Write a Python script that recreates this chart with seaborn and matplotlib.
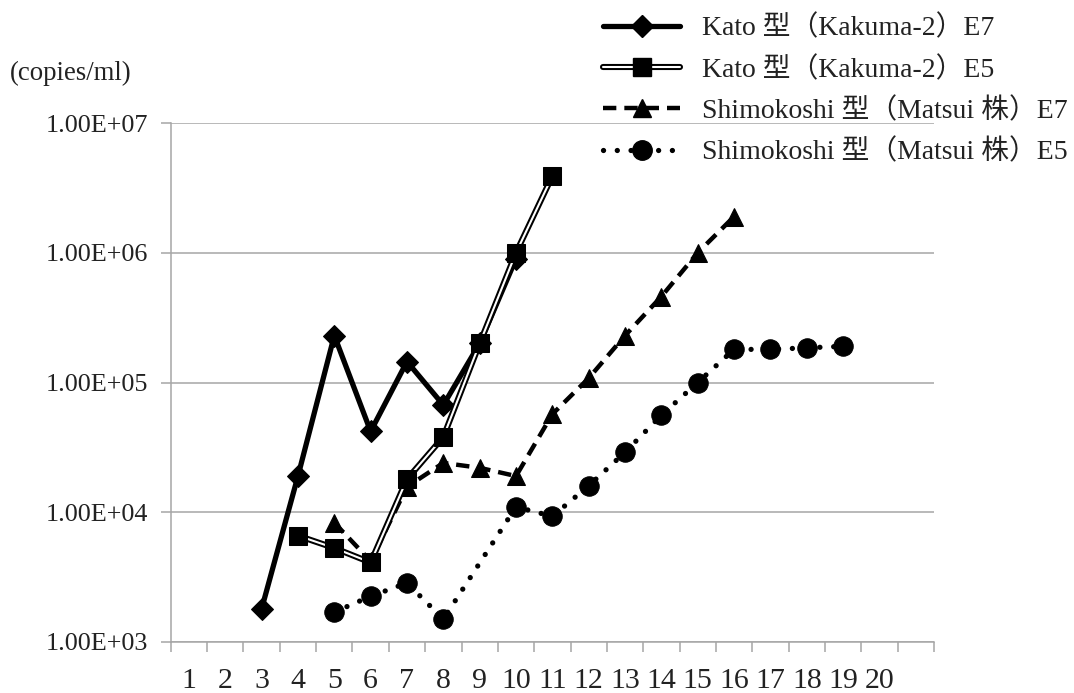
import numpy as np
import pandas as pd
import seaborn as sns
import matplotlib
matplotlib.use("Agg")
from matplotlib import pyplot as plt
from matplotlib.lines import Line2D
from matplotlib.ticker import FixedLocator, FuncFormatter, NullLocator

# values (copies/ml)
kato_e7_x = [3, 4, 5, 6, 7, 8, 9, 10]
kato_e7_y = [1.8e3, 1.9e4, 2.3e5, 4.2e4, 1.45e5, 6.7e4, 2.0e5, 9.0e5]

kato_e5_x = [4, 5, 6, 7, 8, 9, 10, 11]
kato_e5_y = [6.6e3, 5.3e3, 4.1e3, 1.8e4, 3.8e4, 2.0e5, 1.0e6, 3.9e6]

shimo_e7_x = [5, 6, 7, 8, 9, 10, 11, 12, 13, 14, 15, 16]
shimo_e7_y = [8.3e3, 4.2e3, 1.57e4, 2.4e4, 2.2e4, 1.9e4, 5.7e4, 1.08e5,
              2.3e5, 4.6e5, 1.0e6, 1.9e6]

shimo_e5_x = [5, 6, 7, 8, 10, 11, 12, 13, 14, 15, 16, 17, 18, 19]
shimo_e5_y = [1.7e3, 2.25e3, 2.85e3, 1.5e3, 1.1e4, 9.3e3, 1.6e4, 2.9e4,
              5.6e4, 1.0e5, 1.8e5, 1.8e5, 1.85e5, 1.9e5]

labels = ["Kato 型（Kakuma-2）E7", "Kato 型（Kakuma-2）E5",
          "Shimokoshi 型（Matsui 株）E7", "Shimokoshi 型（Matsui 株）E5"]

x_slots = 21
x_labels = [str(i) for i in range(1, 21)]
y_ticks = [1e3, 1e4, 1e5, 1e6, 1e7]

sns.set_theme(style="white")
plt.rcParams['font.family'] = ['Liberation Serif', 'Noto Sans CJK JP']

fig = plt.figure(figsize=(10.74, 6.93), dpi=100)
ax = fig.add_axes([0.159, 0.0736, 0.7106, 0.7489])

grey = "#a6a6a6"
txt = "#222222"
dash_style = (0, (3.0, 1.8))
dot_style = (0, (0.01, 2.6))

# Shimokoshi E5 (dotted, circles)
sns.lineplot(x=shimo_e5_x, y=shimo_e5_y, ax=ax, color="black", lw=3.8,
             linestyle=dot_style, dash_capstyle="round", marker="o", ms=14,
             mec="black", mfc="black", zorder=3, sort=False)
# Shimokoshi E7 (dashed, triangles)
sns.lineplot(x=shimo_e7_x, y=shimo_e7_y, ax=ax, color="black", lw=3.2,
             linestyle=dash_style, marker="^", ms=13,
             mec="black", mfc="black", zorder=4, sort=False)
# Kato E7 (thick solid, diamonds)
sns.lineplot(x=kato_e7_x, y=kato_e7_y, ax=ax, color="black", lw=3.8,
             marker="D", ms=11, mec="black", mfc="black", zorder=5, sort=False)
# Kato E5 (double line, squares)
sns.lineplot(x=kato_e5_x, y=kato_e5_y, ax=ax, color="black", lw=4.4,
             zorder=6, sort=False)
sns.lineplot(x=kato_e5_x, y=kato_e5_y, ax=ax, color="white", lw=1.5,
             marker="s", ms=13, mec="black", mfc="black", zorder=7, sort=False)

ax.set_yscale("log")
ax.set_ylim(1e3, 1e7)
ax.set_xlim(0.5, x_slots + 0.5)
ax.yaxis.set_major_locator(FixedLocator(y_ticks))
ax.yaxis.set_minor_locator(NullLocator())
ax.yaxis.set_major_formatter(FuncFormatter(lambda v, p: "%.2E" % v))
ax.set_xticks(range(1, 21))
ax.set_xticklabels(x_labels)
ax.xaxis.set_minor_locator(FixedLocator(np.arange(0.5, x_slots + 1, 1.0)))

ax.grid(axis="y", which="major", color=grey, lw=1.1)
ax.grid(axis="x", visible=False)
ax.set_axisbelow(True)
for side in ["top", "right"]:
    ax.spines[side].set_visible(False)
for side in ["left", "bottom"]:
    ax.spines[side].set_color(grey)
    ax.spines[side].set_linewidth(1.1)

ax.tick_params(axis="y", which="major", direction="out", length=7, width=1.1,
               color=grey, labelsize=18.8, labelcolor=txt, pad=9, left=True)
ax.tick_params(axis="x", which="major", length=0, labelsize=21.5,
               labelcolor=txt, pad=19)
ax.tick_params(axis="x", which="minor", direction="out", length=7, width=1.1,
               color=grey, bottom=True)
ax.set_xlabel("")
ax.set_ylabel("")

fig.text(0.009, 0.8947, "(copies/ml)", fontsize=19.3, color=txt,
         ha="left", va="center")

handles = [
    Line2D([], [], color="black", lw=3.8, marker="D", ms=11, mfc="black", mec="black"),
    (Line2D([], [], color="black", lw=4.4),
     Line2D([], [], color="white", lw=1.5, marker="s", ms=13, mfc="black", mec="black")),
    Line2D([], [], color="black", lw=3.2, linestyle=dash_style, marker="^", ms=13,
           mfc="black", mec="black"),
    Line2D([], [], color="black", lw=3.8, linestyle=dot_style, dash_capstyle="round",
           marker="o", ms=14, mfc="black", mec="black"),
]
leg = fig.legend(handles, labels, loc="upper left",
                 bbox_to_anchor=(0.5615, 0.978), frameon=False, fontsize=20,
                 handlelength=2.77, handletextpad=0.8, labelspacing=0.53,
                 borderpad=0, borderaxespad=0)
for t in leg.get_texts():
    t.set_color(txt)

fig.savefig("out.png", dpi=100)
